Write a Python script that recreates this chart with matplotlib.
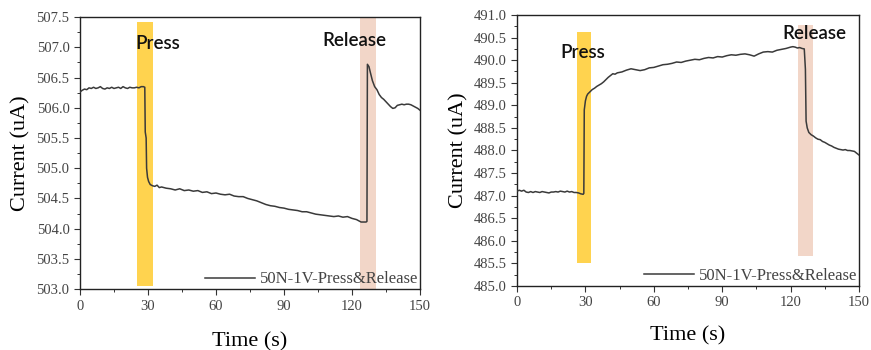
import matplotlib
matplotlib.use("Agg")
import matplotlib.pyplot as plt
from matplotlib.ticker import MultipleLocator, FormatStrFormatter

# ---------------- data ----------------
t_left = [0, 1, 2, 3, 4, 5, 6, 7, 8, 9, 10, 11, 12, 13, 14, 15, 16, 17, 18, 19, 20,
          21, 22, 23, 24, 25, 26, 27, 28, 28.6, 28.8, 29.2, 29.4, 29.8, 30.3, 31, 32,
          33, 34, 35, 36, 38, 40, 42, 44, 46, 48, 50, 52, 54, 56, 58, 60, 62, 64, 66,
          68, 70, 72, 74, 76, 78, 80, 82, 84, 86, 88, 90, 92, 94, 96, 98, 100, 102,
          104, 106, 108, 110, 112, 114, 116, 118, 120, 122, 123, 124, 125, 126.2,
          126.6, 126.8, 127.5, 128, 129, 130, 131, 132, 133, 134, 135, 136, 137, 138,
          139, 140, 141, 142, 143, 144, 145, 146, 147, 148, 149, 150]
i_left = [506.26, 506.29, 506.31, 506.30, 506.33, 506.32, 506.34, 506.32, 506.33, 506.35,
          506.32, 506.31, 506.33, 506.32, 506.34, 506.32, 506.33, 506.34, 506.32, 506.35,
          506.33, 506.32, 506.34, 506.33, 506.33, 506.34, 506.33, 506.35, 506.35, 506.34,
          505.60, 505.50, 505.00, 504.85, 504.78, 504.73, 504.71, 504.70, 504.72, 504.68,
          504.69, 504.67, 504.66, 504.64, 504.66, 504.63, 504.64, 504.62, 504.63, 504.60,
          504.61, 504.58, 504.59, 504.57, 504.56, 504.57, 504.54, 504.53, 504.53, 504.50,
          504.48, 504.46, 504.43, 504.40, 504.38, 504.37, 504.35, 504.34, 504.32, 504.31,
          504.30, 504.28, 504.28, 504.26, 504.24, 504.23, 504.22, 504.21, 504.20, 504.21,
          504.19, 504.20, 504.17, 504.15, 504.13, 504.11, 504.11, 504.11, 504.12, 506.72,
          506.68, 506.60, 506.45, 506.35, 506.30, 506.22, 506.17, 506.14, 506.10, 506.06,
          506.02, 505.99, 506.00, 506.04, 506.05, 506.06, 506.05, 506.06, 506.06, 506.05,
          506.03, 506.01, 505.99, 505.96]

t_right = [0, 1, 2, 3, 4, 5, 6, 7, 8, 9, 10, 11, 12, 13, 14, 15, 16, 17, 18, 19, 20,
           21, 22, 23, 24, 25, 26, 27, 28, 29, 29.3, 29.5, 30, 30.5, 31, 32, 33, 34, 35,
           36, 37, 38, 39, 40, 41, 42, 43, 44, 46, 48, 50, 52, 54, 56, 58, 60, 62, 64,
           66, 68, 70, 72, 74, 76, 78, 80, 82, 84, 86, 88, 90, 92, 94, 96, 98, 100, 102,
           104, 106, 108, 110, 112, 114, 116, 118, 120, 121, 122, 123, 124, 125, 126,
           126.5, 126.8, 127.3, 128, 129, 130, 131, 132, 133, 134, 135, 136, 137, 138,
           139, 140, 141, 142, 143, 144, 145, 146, 147, 148, 149, 150]
i_right = [487.10, 487.12, 487.10, 487.12, 487.08, 487.07, 487.09, 487.07, 487.09, 487.08,
           487.07, 487.09, 487.08, 487.07, 487.06, 487.08, 487.08, 487.09, 487.08, 487.10,
           487.09, 487.08, 487.10, 487.08, 487.09, 487.07, 487.07, 487.06, 487.04, 487.03,
           487.05, 488.90, 489.10, 489.20, 489.25, 489.30, 489.35, 489.38, 489.42, 489.45,
           489.48, 489.52, 489.57, 489.62, 489.66, 489.70, 489.69, 489.72, 489.74, 489.78,
           489.81, 489.79, 489.77, 489.79, 489.83, 489.84, 489.87, 489.90, 489.91, 489.93,
           489.96, 489.95, 489.98, 490.00, 490.02, 490.01, 490.04, 490.06, 490.05, 490.08,
           490.07, 490.10, 490.12, 490.11, 490.13, 490.14, 490.12, 490.09, 490.14, 490.18,
           490.19, 490.18, 490.22, 490.24, 490.26, 490.29, 490.30, 490.29, 490.27, 490.28,
           490.26, 490.25, 489.80, 488.65, 488.50, 488.40, 488.35, 488.32, 488.28, 488.25,
           488.24, 488.20, 488.18, 488.15, 488.12, 488.10, 488.07, 488.05, 488.03, 488.02,
           488.01, 488.02, 488.00, 488.00, 487.99, 487.98, 487.94, 487.90]

# bands: (x0, x1, y0, y1)
press_left = [25.1, 32.2, 503.05, 507.42]
release_left = [123.5, 130.4, 503.0, 507.5]
press_right = [26.3, 32.6, 485.5, 490.62]
release_right = [123.2, 129.7, 485.66, 490.78]

label_pos_left = {"Press": (24.3, 507.07), "Release": (107.0, 507.12)}
label_pos_right = {"Press": (18.9, 490.16), "Release": (116.5, 490.6)}

legend_label = "50N-1V-Press&Release"
xticks = [0, 30, 60, 90, 120, 150]

# ---------------- style ----------------
SERIF = ["Liberation Serif", "DejaVu Serif"]
SANS = ["Lato", "DejaVu Sans"]
line_color = "#3a3a3a"
press_color = "#FFD34F"
release_color = "#F2D6C8"

fig = plt.figure(figsize=(8.71, 3.5), dpi=100)
ax1 = fig.add_axes([0.0918, 0.174, 0.3904, 0.777])
ax2 = fig.add_axes([0.5936, 0.183, 0.3926, 0.774])


def draw(ax, t, i, press, release, ylim, labels, xpad):
    ax.fill_betweenx([press[2], press[3]], press[0], press[1], color=press_color,
                     linewidth=0, zorder=1)
    ax.fill_betweenx([release[2], release[3]], release[0], release[1],
                     color=release_color, linewidth=0, zorder=1)
    ax.plot(t, i, color=line_color, lw=1.1, label=legend_label, zorder=3)
    ax.set_xlim(0, 150)
    ax.set_ylim(*ylim)
    ax.set_xticks(xticks)
    ax.xaxis.set_minor_locator(MultipleLocator(15))
    ax.yaxis.set_major_locator(MultipleLocator(0.5))
    ax.yaxis.set_minor_locator(MultipleLocator(0.25))
    ax.yaxis.set_major_formatter(FormatStrFormatter("%.1f"))
    ax.tick_params(which="major", direction="out", length=4, width=0.8,
                   colors="#333333", labelcolor="#444444", labelsize=10.5)
    ax.tick_params(which="minor", direction="out", length=2, width=0.7,
                   colors="#333333")
    for lab in ax.get_xticklabels() + ax.get_yticklabels():
        lab.set_family(SERIF)
    for s in ax.spines.values():
        s.set_linewidth(1.0)
        s.set_color("#222222")
    ax.set_xlabel("Time (s)", family=SERIF, fontsize=16, labelpad=xpad)
    ax.set_ylabel("Current (uA)", family=SERIF, fontsize=16, labelpad=4)
    for txt, (x, y) in labels.items():
        ax.text(x, y, txt, family=SANS, fontsize=13.5, fontweight="semibold",
                va="center", ha="left", color="#111111", zorder=4)
    leg = ax.legend(loc="lower right", frameon=False, prop={"family": SERIF, "size": 12},
                    handlelength=3.0, handletextpad=0.3, borderaxespad=0.0,
                    borderpad=0.1)
    for txt in leg.get_texts():
        txt.set_color("#444444")


draw(ax1, t_left, i_left, press_left, release_left, (503.0, 507.5), label_pos_left, 14)
draw(ax2, t_right, i_right, press_right, release_right, (485.0, 491.0), label_pos_right, 12)

fig.savefig("out.png", dpi=100)
